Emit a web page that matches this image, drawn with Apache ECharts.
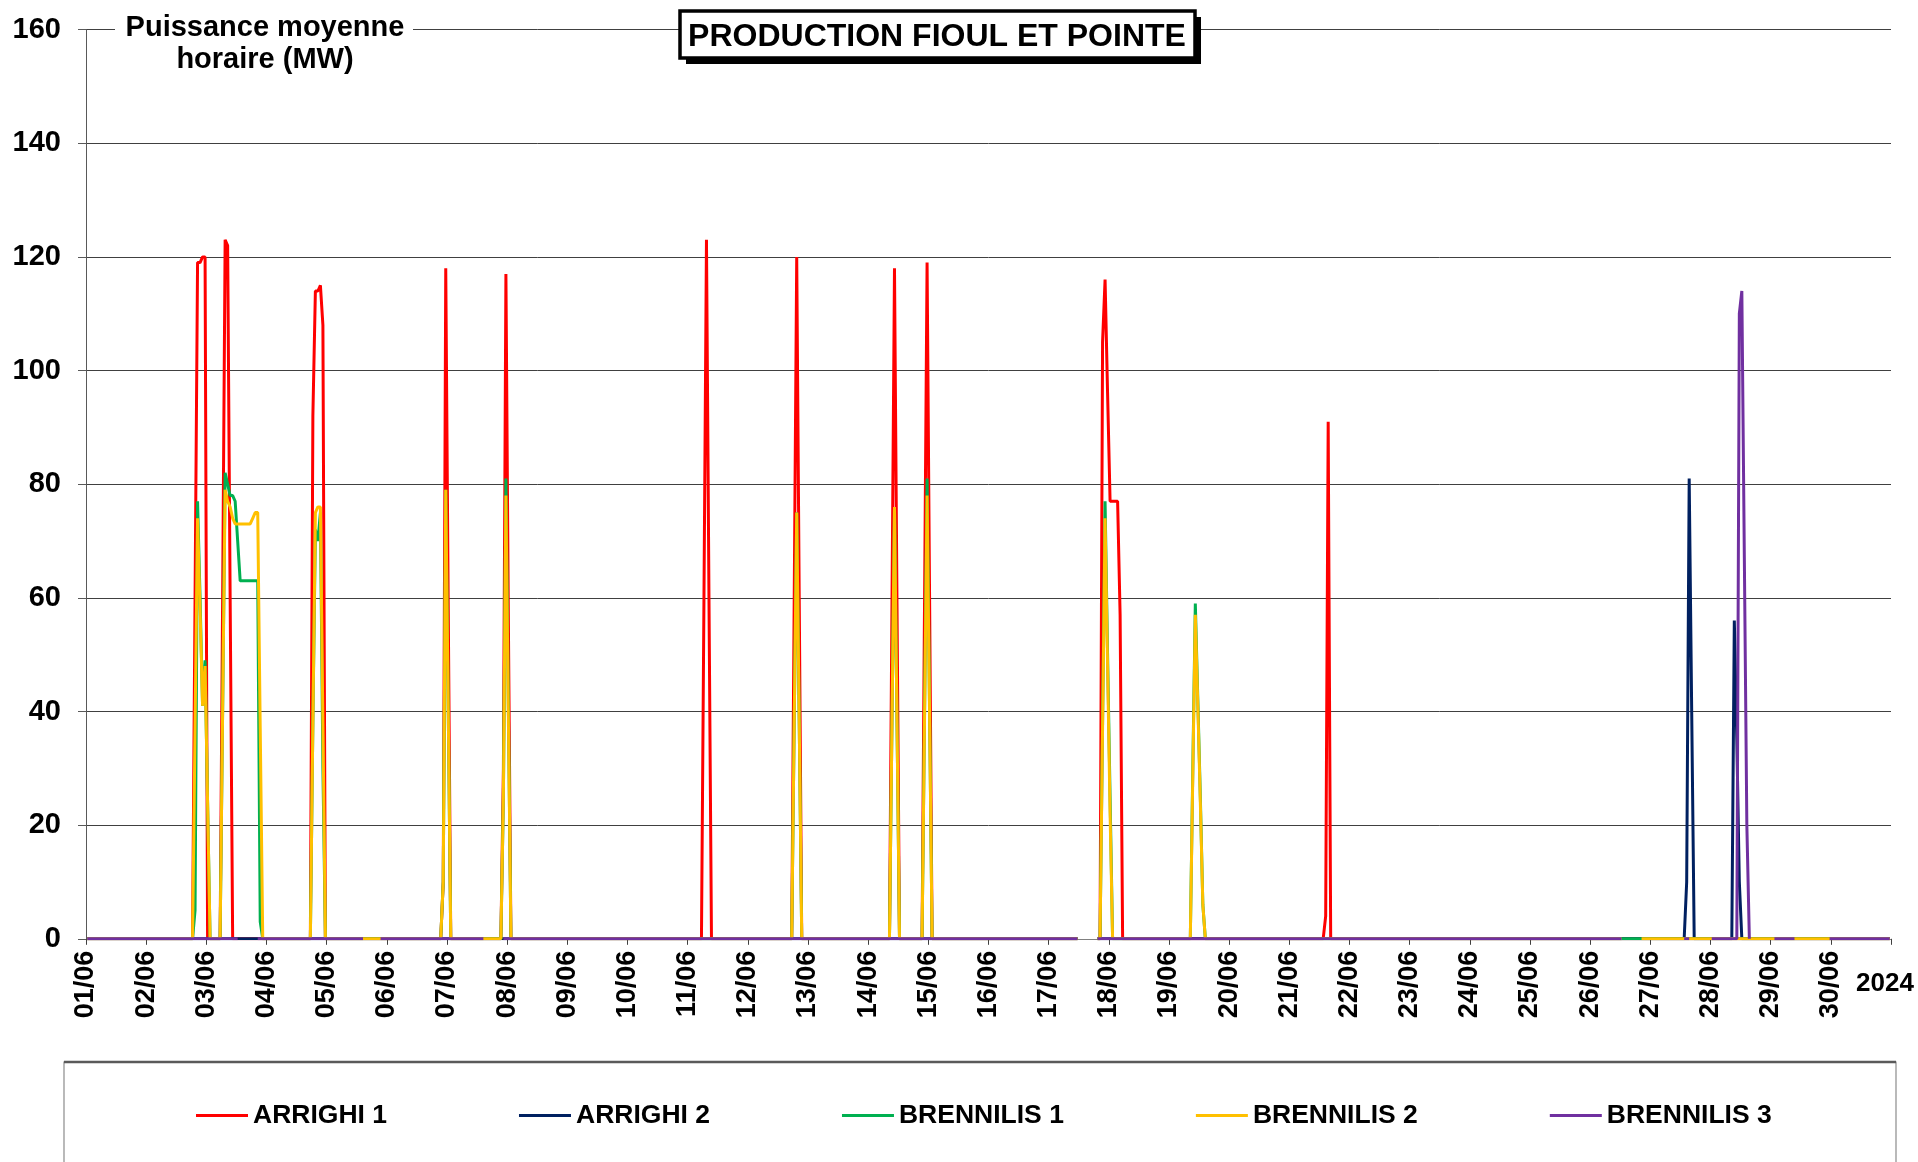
<!DOCTYPE html>
<html lang="fr">
<head>
<meta charset="utf-8">
<title>Production fioul et pointe</title>
<script src="https://cdn.jsdelivr.net/npm/echarts@6/dist/echarts.min.js"></script>
<style>
  html, body { margin: 0; padding: 0; background: #fff; }
  #chart { width: 1918px; height: 1162px; }
</style>
</head>
<body>
<div id="chart"></div>
<script>
// Hourly mean power (MW), June: 720 hourly values per unit.
// Each unit lists its running periods as [first hour index, [hourly MW values...]];
// every other hour of the month is 0, except the hours listed as missing.
const HOURS_IN_MONTH = 720;

const dayLabels = ['01/06', '02/06', '03/06', '04/06', '05/06', '06/06', '07/06', '08/06', '09/06', '10/06',
                   '11/06', '12/06', '13/06', '14/06', '15/06', '16/06', '17/06', '18/06', '19/06', '20/06',
                   '21/06', '22/06', '23/06', '24/06', '25/06', '26/06', '27/06', '28/06', '29/06', '30/06'];
const yearLabel = '2024';
const yTicks = [0, 20, 40, 60, 80, 100, 120, 140, 160];

const unitNames = ['ARRIGHI 1', 'ARRIGHI 2', 'BRENNILIS 1', 'BRENNILIS 2', 'BRENNILIS 3'];
const unitColors = ['#FF0000', '#002060', '#00B050', '#FFC000', '#7030A0'];

const arrighi1Runs = [
  [43, [60, 119, 119, 120, 120]],
  [54, [60, 123, 122, 60]],
  [90, [92, 114, 114, 115, 108]],
  [142, [10, 118, 58]],
  [166, [30, 117, 55]],
  [246, [60, 123, 60]],
  [282, [60, 120, 60]],
  [321, [59, 118, 59]],
  [334, [60, 119, 60]],
  [405, [105, 116, 96, 77, 77, 77, 77, 57]],
  [494, [4, 91]]
];
const arrighi2Runs = [
  [638, [10, 81, 40]],
  [657, [56, 35, 10]]
];
const brennilis1Runs = [
  [43, [5, 77, 60, 41, 49, 24]],
  [54, [40, 82, 80, 78, 78, 77, 70, 63, 63, 63, 63, 63, 63, 63, 63, 3]],
  [90, [38, 72, 70, 75, 30]],
  [142, [10, 79, 40]],
  [166, [25, 81, 40]],
  [282, [38, 75, 38]],
  [321, [38, 76, 38]],
  [334, [40, 81, 40]],
  [405, [38, 77, 50, 25]],
  [441, [30, 59, 42, 25, 6]]
];
const brennilis2Runs = [
  [43, [37, 74, 58, 41, 48, 24]],
  [54, [40, 79, 77, 76, 74, 73, 73, 73, 73, 73, 73, 73, 74, 75, 75, 37]],
  [90, [38, 75, 76, 76, 38]],
  [142, [10, 79, 40]],
  [166, [25, 78, 38]],
  [282, [38, 75, 38]],
  [321, [38, 76, 38]],
  [334, [39, 78, 39]],
  [405, [37, 74, 48, 22]],
  [441, [29, 57, 41, 24, 6]]
];
const brennilis3Runs = [
  [659, [110, 114, 67, 20]]
];

// Hours without data: [first, last] hour index, inclusive
const missingAllUnits = [[396, 402]];
const brennilis2Missing = [[613, 619]];
const brennilis3Missing = [[61, 67], [111, 116], [159, 165], [613, 636], [640, 647], [664, 672], [682, 694]];

function hourlySeries(runs, missing) {
  const values = new Array(HOURS_IN_MONTH).fill(0);
  runs.forEach(([start, vals]) => vals.forEach((v, k) => { values[start + k] = v; }));
  missing.concat(missingAllUnits).forEach(([a, b]) => {
    for (let i = a; i <= b; i++) values[i] = '-';
  });
  // each hourly mean is placed at the middle of its hour
  return values.map((v, i) => [i + 0.5, v]);
}

const unitData = [
  hourlySeries(arrighi1Runs, []),
  hourlySeries(arrighi2Runs, []),
  hourlySeries(brennilis1Runs, []),
  hourlySeries(brennilis2Runs, brennilis2Missing),
  hourlySeries(brennilis3Runs, brennilis3Missing)
];

const FONT = '"Liberation Sans", Arial, Helvetica, sans-serif';

const chart = echarts.init(document.getElementById('chart'), null, { renderer: 'canvas' });

chart.setOption({
  animation: false,
  backgroundColor: '#ffffff',
  textStyle: { fontFamily: FONT },
  grid: { left: 86, right: 27, top: 29.6, bottom: 223.2 },
  xAxis: {
    type: 'value',
    min: 0,
    max: HOURS_IN_MONTH,
    interval: 24,
    axisLine: { show: true, lineStyle: { color: '#808080', width: 1 } },
    axisTick: { show: true, length: 6, lineStyle: { color: '#404040', width: 1 } },
    splitLine: { show: false },
    axisLabel: {
      rotate: 90,
      margin: 12,
      showMinLabel: true,
      showMaxLabel: true,
      fontSize: 27,
      fontWeight: 'bold',
      fontFamily: FONT,
      color: '#000000',
      formatter: v => (v < HOURS_IN_MONTH ? dayLabels[Math.round(v / 24)] : '')
    }
  },
  yAxis: {
    type: 'value',
    min: yTicks[0],
    max: yTicks[yTicks.length - 1],
    interval: yTicks[1] - yTicks[0],
    axisLine: { show: true, lineStyle: { color: '#595959', width: 1 } },
    axisTick: { show: true, length: 8, lineStyle: { color: '#595959', width: 1 } },
    splitLine: { show: true, lineStyle: { color: '#404040', width: 1 } },
    axisLabel: {
      margin: 25,
      fontSize: 29,
      fontWeight: 'bold',
      fontFamily: FONT,
      color: '#000000'
    }
  },
  legend: {
    left: 196,
    top: 1102,
    itemGap: 132,
    itemWidth: 52,
    itemHeight: 3,
    icon: 'rect',
    padding: 0,
    selectedMode: false,
    textStyle: { fontSize: 26.5, fontWeight: 'bold', fontFamily: FONT, color: '#000000' },
    data: unitNames
  },
  series: unitNames.map((name, k) => ({
    name: name,
    type: 'line',
    data: unitData[k],
    showSymbol: false,
    symbol: 'none',
    connectNulls: false,
    color: unitColors[k],
    itemStyle: { color: unitColors[k] },
    lineStyle: { color: unitColors[k], width: 3 },
    emphasis: { disabled: true },
    z: 2 + k
  })),
  graphic: [
    // title box with drop shadow
    { type: 'rect', z: 10, shape: { x: 686, y: 17, width: 515, height: 47 }, style: { fill: '#000000' } },
    { type: 'rect', z: 11, shape: { x: 680, y: 11, width: 515, height: 47 },
      style: { fill: '#ffffff', stroke: '#000000', lineWidth: 3.5 } },
    { type: 'text', z: 12, x: 937, y: 37,
      style: { text: 'PRODUCTION FIOUL ET POINTE', font: 'bold 32px ' + FONT, fill: '#000000',
               textAlign: 'center', textVerticalAlign: 'middle' } },
    // y-axis name on a white patch over the top grid line
    { type: 'rect', z: 10, shape: { x: 115, y: 10, width: 298, height: 66 }, style: { fill: '#ffffff' } },
    { type: 'text', z: 12, x: 265, y: 44,
      style: { text: 'Puissance moyenne\nhoraire (MW)', font: 'bold 29px ' + FONT, fill: '#000000',
               lineHeight: 32, textAlign: 'center', textVerticalAlign: 'middle' } },
    // year label at the end of the time axis
    { type: 'text', z: 12, x: 1885, y: 984,
      style: { text: yearLabel, font: 'bold 26px ' + FONT, fill: '#000000',
               textAlign: 'center', textVerticalAlign: 'middle' } },
    // legend frame
    { type: 'rect', z: 10, shape: { x: 64, y: 1062, width: 1832, height: 140 },
      style: { fill: null, stroke: '#8c8c8c', lineWidth: 1.2 } },
    { type: 'line', z: 10, shape: { x1: 64, y1: 1062, x2: 1896, y2: 1062 },
      style: { stroke: '#5a5a5a', lineWidth: 2.5 } }
  ]
});
</script>
</body>
</html>
